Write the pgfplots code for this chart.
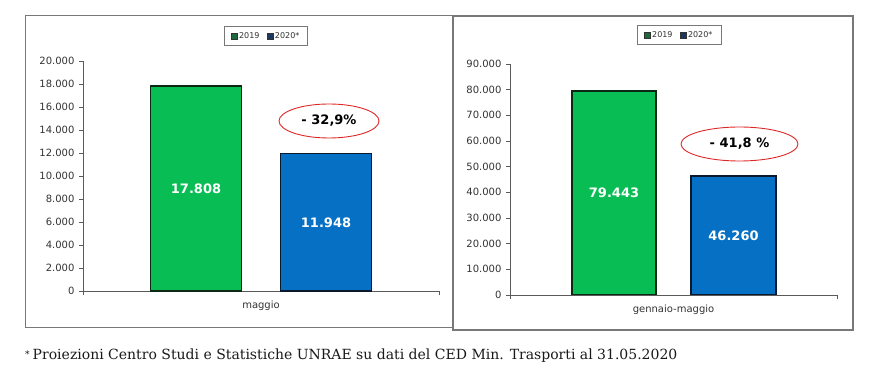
\documentclass[border=0pt]{standalone}
\usepackage{pgfplots}
\pgfplotsset{compat=1.18}
\usepackage{fontspec}
\setmainfont{DejaVu Serif}
\newfontfamily\verd{DejaVu Sans}
\definecolor{bargreen}{RGB}{8,190,84}
\definecolor{barblue}{RGB}{5,112,196}
\definecolor{greenedge}{RGB}{12,40,20}
\definecolor{blueedge}{RGB}{10,25,45}
\definecolor{leggreen}{RGB}{30,105,60}
\definecolor{legblue}{RGB}{28,55,95}
\definecolor{ticktext}{RGB}{50,50,50}
\definecolor{axgray}{RGB}{90,90,90}
\definecolor{framegray}{RGB}{120,120,120}
\definecolor{ovalred}{RGB}{222,40,40}

\tikzset{
  barlabel/.style={font=\verd\bfseries\fontsize{13}{13}\selectfont, text=white},
  ovaltext/.style={font=\verd\bfseries\fontsize{13}{13}\selectfont, text=black},
}
\pgfplotsset{
  panel/.style={
    scale only axis,
    anchor=south west,
    xmin=0, xmax=1, ymin=0,
    axis lines*=left,
    axis line style={draw=axgray, line width=0.8pt},
    tick align=outside,
    major tick length=4pt,
    ytick style={draw=axgray, line width=0.6pt},
    xtick={0.5},
    xtick style={draw=none},
    extra x ticks={0,1},
    extra x tick labels={},
    extra x tick style={xtick style={draw=axgray, line width=0.6pt}},
    scaled y ticks=false,
    /pgf/number format/use comma,
    /pgf/number format/1000 sep={.},
    /pgf/number format/assume math mode=true,
    yticklabel style={font=\verd\fontsize{10}{11}\selectfont, text=ticktext, xshift=-1pt},
    xticklabel style={font=\verd\fontsize{10}{11}\selectfont, text=ticktext, yshift=-2pt},
    legend columns=2,
    legend cell align=left,
    legend style={draw=framegray, fill=white, line width=0.7pt,
      font=\verd\fontsize{8}{9}\selectfont, text=ticktext,
      inner xsep=7pt, inner ysep=3.5pt,
      /tikz/every even column/.append style={column sep=6pt},
      nodes={inner xsep=1.5pt, inner ysep=2pt}},
  },
}

\begin{document}
\begin{tikzpicture}[x=1pt,y=1pt]
\path[use as bounding box] (0pt,0pt) rectangle (896pt,380pt);
% panel frames
\draw[framegray, line width=1pt] (25pt,364pt) rectangle (452pt,52pt);
\draw[framegray, line width=1.2pt] (453pt,364pt) rectangle (853pt,50pt);

% ---- left panel: maggio
\begin{axis}[panel,
  at={(83pt,89pt)}, width=356pt, height=230pt,
  ymax=20000, ytick={0,2000,...,20000},
  xticklabels={maggio},
  legend style={at={(0.514,1.109)}, anchor=center},
]
\addlegendimage{legend image code/.code={\draw[fill=leggreen, draw=black!80, line width=0.5pt] (0pt,-3pt) rectangle (6pt,3pt);}}
\addlegendentry{2019}
\addlegendimage{legend image code/.code={\draw[fill=legblue, draw=black!80, line width=0.5pt] (0pt,-3pt) rectangle (6pt,3pt);}}
\addlegendentry{2020*}
\addplot[ybar, bar width=91pt, bar shift=-65pt, fill=bargreen, draw=greenedge, line width=1.8pt, forget plot] coordinates {(0.5,17808)};
\addplot[ybar, bar width=91pt, bar shift=65pt, fill=barblue, draw=blueedge, line width=1.8pt, forget plot] coordinates {(0.5,11948)};
\node[barlabel, xshift=-65pt] at (axis cs:0.5,8904) {17.808};
\node[barlabel, xshift=65pt] at (axis cs:0.5,5974) {11.948};
\end{axis}
\draw[ovalred, line width=0.9pt] (329pt,259pt) ellipse [x radius=50pt, y radius=17pt];
\node[ovaltext] at (329pt,259pt) {- 32,9\%};

% ---- right panel: gennaio-maggio
\begin{axis}[panel,
  at={(510pt,85pt)}, width=327pt, height=231pt,
  ymax=90000, ytick={0,10000,...,90000},
  xticklabels={gennaio-maggio},
  legend style={at={(0.517,1.126)}, anchor=center},
]
\addlegendimage{legend image code/.code={\draw[fill=leggreen, draw=black!80, line width=0.5pt] (0pt,-3pt) rectangle (6pt,3pt);}}
\addlegendentry{2019}
\addlegendimage{legend image code/.code={\draw[fill=legblue, draw=black!80, line width=0.5pt] (0pt,-3pt) rectangle (6pt,3pt);}}
\addlegendentry{2020*}
\addplot[ybar, bar width=84pt, bar shift=-59.5pt, fill=bargreen, draw=greenedge, line width=1.8pt, forget plot] coordinates {(0.5,79443)};
\addplot[ybar, bar width=85pt, bar shift=60pt, fill=barblue, draw=blueedge, line width=1.8pt, forget plot] coordinates {(0.5,46260)};
\node[barlabel, xshift=-59.5pt] at (axis cs:0.5,39721) {79.443};
\node[barlabel, xshift=60pt] at (axis cs:0.5,23130) {46.260};
\end{axis}
\draw[ovalred, line width=0.9pt] (739.5pt,236pt) ellipse [x radius=58.5pt, y radius=17pt];
\node[ovaltext] at (739.5pt,236pt) {- 41,8 \%};

% footnote
\node[anchor=base west, inner sep=0pt, font=\fontsize{14}{16}\selectfont, text=black!90] at (25pt,20pt) {\raisebox{0.35ex}{\fontsize{9}{9}\selectfont*}\hspace{3pt}Proiezioni Centro Studi e Statistiche UNRAE su dati del CED Min. Trasporti al 31.05.2020};
\end{tikzpicture}
\end{document}
